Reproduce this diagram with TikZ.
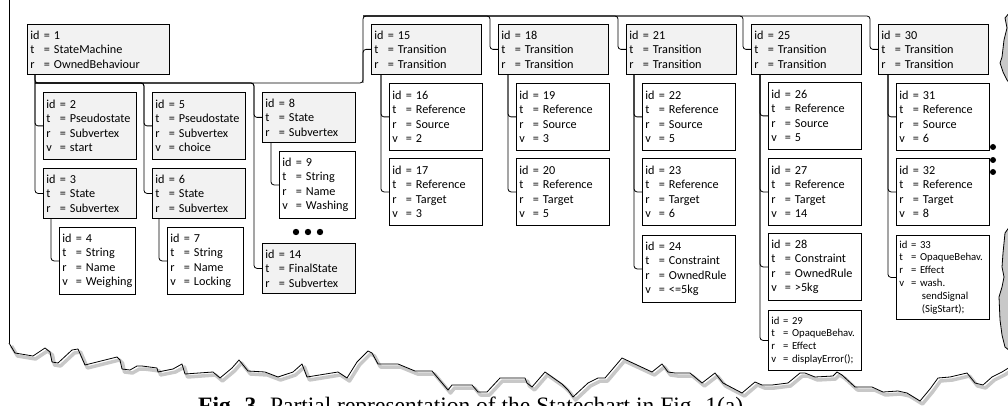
\documentclass[tikz,border=0pt]{standalone}
\usepackage{fontspec}
\setmainfont{Carlito}
\newfontfamily\capfont{Liberation Serif}
\usetikzlibrary{calc,positioning}

\definecolor{elemgrey}{RGB}{242,242,242}
\definecolor{shadowgrey}{RGB}{200,200,200}

\newcommand{\kv}[2]{\makebox[1.1em][l]{#1}= \mbox{#2}}
\newcommand{\boxfont}{\fontsize{12.2}{14.5}\selectfont}
\newcommand{\tinyboxfont}{\fontsize{10.7}{12.8}\selectfont}
\newcommand{\childlink}[2]{\draw[link] ($(#2.west |- #1.south)+(-8,0)$) |- (#2.west);}
\newcommand{\spinelink}[2]{\draw[link] (#1) -| ($(#2.west)+(-8,0)$) -- (#2.west);}
\newcommand{\tornedge}[1]{\draw[#1] (9,343) -- (15,353) -- (33,356) -- (45,348) -- (50,352) -- (52,362) -- (58,363) -- (72,350) -- (78,349) -- (85,365) -- (117,357) -- (120,360) -- (122,369) -- (130,370) -- (137,366) -- (142,366) -- (157,368) -- (158,372) -- (173,369) -- (182,364) -- (185,374) -- (213,372) -- (220,378) -- (232,368) -- (239,360) -- (248,371) -- (265,372) -- (278,377) -- (293,372) -- (302,364) -- (307,377) -- (338,372) -- (347,378) -- (357,362) -- (368,351) -- (372,353) -- (378,364) -- (398,364) -- (415,371) -- (432,371) -- (448,390) -- (452,385) -- (472,385) -- (478,392) -- (487,392) -- (500,378) -- (525,378) -- (527,383) -- (532,387) -- (545,372) -- (562,384) -- (568,390) -- (573,397) -- (588,383) -- (598,378) -- (605,378) -- (622,358) -- (652,372) -- (662,364) -- (668,372) -- (675,373) -- (690,373) -- (702,383) -- (715,373) -- (723,383) -- (742,393) -- (755,382) -- (762,385) -- (772,385) -- (788,383) -- (800,373) -- (805,373) -- (815,377) -- (833,376) -- (837,372) -- (842,375) -- (855,387) -- (872,387) -- (883,392) -- (898,391) -- (907,393) -- (920,401) -- (930,389) -- (938,378) -- (950,377) -- (967,373) -- (975,383) -- (983,385) -- (992,377) -- (1002,372) -- (1010,367);}

\begin{document}
\begin{tikzpicture}[
    x=1pt, y=-1pt,
    box/.style={draw, line width=0.8pt, anchor=north west, align=left, inner xsep=3pt, inner ysep=0pt, font=\boxfont},
    elem/.style={box, fill=elemgrey},
    attr/.style={box, fill=white},
    wroot/.style={text width=136pt},
    wtrans/.style={text width=104pt},
    wstd/.style={text width=87pt},
    wslim/.style={text width=70pt},
    three/.style={minimum height=50pt},
    four/.style={minimum height=67pt},
    link/.style={line width=0.8pt, rounded corners=3pt},
    tornshadow/.style={draw=shadowgrey, line width=3.5pt, line join=round},
    tornline/.style={line width=0.8pt, line join=round}
]
\useasboundingbox (0, 0) rectangle (1008, 406);

% Torn sheet
\tornedge{tornshadow, xshift=2.5pt, yshift=-3pt}
\tornedge{tornline}
\draw[tornline] (9, -2) -- (9, 343);
\draw[tornline, fill=shadowgrey] (1010, 12) -- (1005, 18) -- (1007, 28) -- (1004, 40) -- (1002, 57) -- (1000, 63) -- (1003, 72) -- (1007, 80) -- (1010, 84);
\draw[tornline, fill=shadowgrey] (1010, 226) -- (1005, 233) -- (1003, 253) -- (1002, 267) -- (1004, 277) -- (1002, 287) -- (999, 297) -- (1000, 320) -- (1002, 335) -- (1005, 347) -- (1010, 351);

% Root
\node[elem, wroot, three] (n1) at (27, 24) {\kv{id}{1}\\\kv{t}{StateMachine}\\\kv{r}{OwnedBehaviour}};

% Subvertices
\node[elem, wstd, four] (n2) at (43, 92) {\kv{id}{2}\\\kv{t}{Pseudostate}\\\kv{r}{Subvertex}\\\kv{v}{start}};
\node[elem, wstd, three] (n3) at (43, 168) {\kv{id}{3}\\\kv{t}{State}\\\kv{r}{Subvertex}};
\node[attr, wslim, four] (n4) at (59, 227) {\kv{id}{4}\\\kv{t}{String}\\\kv{r}{Name}\\\kv{v}{Weighing}};
\node[elem, wstd, four] (n5) at (152, 92) {\kv{id}{5}\\\kv{t}{Pseudostate}\\\kv{r}{Subvertex}\\\kv{v}{choice}};
\node[elem, wstd, three] (n6) at (152, 168) {\kv{id}{6}\\\kv{t}{State}\\\kv{r}{Subvertex}};
\node[attr, wslim, four] (n7) at (167, 227) {\kv{id}{7}\\\kv{t}{String}\\\kv{r}{Name}\\\kv{v}{Locking}};
\node[elem, wstd, three] (n8) at (262, 92) {\kv{id}{8}\\\kv{t}{State}\\\kv{r}{Subvertex}};
\node[attr, wslim, four] (n9) at (279, 151) {\kv{id}{9}\\\kv{t}{String}\\\kv{r}{Name}\\\kv{v}{Washing}};
\node[elem, wstd, three] (n14) at (262, 243) {\kv{id}{14}\\\kv{t}{FinalState}\\\kv{r}{Subvertex}};

% Transitions
\node[elem, wtrans, three] (n15) at (371, 24) {\kv{id}{15}\\\kv{t}{Transition}\\\kv{r}{Transition}};
\node[attr, wstd, four] (n16) at (389, 83) {\kv{id}{16}\\\kv{t}{Reference}\\\kv{r}{Source}\\\kv{v}{2}};
\node[attr, wstd, four] (n17) at (389, 158) {\kv{id}{17}\\\kv{t}{Reference}\\\kv{r}{Target}\\\kv{v}{3}};
\node[elem, wtrans, three] (n18) at (498, 24) {\kv{id}{18}\\\kv{t}{Transition}\\\kv{r}{Transition}};
\node[attr, wstd, four] (n19) at (516, 83) {\kv{id}{19}\\\kv{t}{Reference}\\\kv{r}{Source}\\\kv{v}{3}};
\node[attr, wstd, four] (n20) at (516, 158) {\kv{id}{20}\\\kv{t}{Reference}\\\kv{r}{Target}\\\kv{v}{5}};
\node[elem, wtrans, three] (n21) at (626, 24) {\kv{id}{21}\\\kv{t}{Transition}\\\kv{r}{Transition}};
\node[attr, wstd, four] (n22) at (642, 83) {\kv{id}{22}\\\kv{t}{Reference}\\\kv{r}{Source}\\\kv{v}{5}};
\node[attr, wstd, four] (n23) at (642, 158) {\kv{id}{23}\\\kv{t}{Reference}\\\kv{r}{Target}\\\kv{v}{6}};
\node[attr, wstd, four] (n24) at (642, 235) {\kv{id}{24}\\\kv{t}{Constraint}\\\kv{r}{OwnedRule}\\\kv{v}{<=5kg}};
\node[elem, wtrans, three] (n25) at (751, 24) {\kv{id}{25}\\\kv{t}{Transition}\\\kv{r}{Transition}};
\node[attr, wstd, four] (n26) at (768, 82) {\kv{id}{26}\\\kv{t}{Reference}\\\kv{r}{Source}\\\kv{v}{5}};
\node[attr, wstd, four] (n27) at (768, 158) {\kv{id}{27}\\\kv{t}{Reference}\\\kv{r}{Target}\\\kv{v}{14}};
\node[attr, wstd, four] (n28) at (768, 233) {\kv{id}{28}\\\kv{t}{Constraint}\\\kv{r}{OwnedRule}\\\kv{v}{>5kg}};
\node[attr, wstd, minimum height=60pt, font=\tinyboxfont] (n29) at (768, 310) {\kv{id}{29}\\\kv{t}{OpaqueBehav.}\\\kv{r}{Effect}\\\kv{v}{displayError();}};
\node[elem, wtrans, three] (n30) at (878, 24) {\kv{id}{30}\\\kv{t}{Transition}\\\kv{r}{Transition}};
\node[attr, wstd, four] (n31) at (896, 83) {\kv{id}{31}\\\kv{t}{Reference}\\\kv{r}{Source}\\\kv{v}{6}};
\node[attr, wstd, four] (n32) at (896, 158) {\kv{id}{32}\\\kv{t}{Reference}\\\kv{r}{Target}\\\kv{v}{8}};
\node[attr, wstd, minimum height=84pt, font=\tinyboxfont] (n33) at (896, 235) {\kv{id}{33}\\\kv{t}{OpaqueBehav.}\\\kv{r}{Effect}\\\kv{v}{wash.}\\\hspace*{2.1em}sendSignal\\\hspace*{2.1em}(SigStart);};

% Spine
\coordinate (hub) at (35, 83);
\coordinate (rise) at (363, 83);
\coordinate (ridge) at (363, 16);
\draw[link] (n1.south -| hub) -- (hub) -- (rise) -- (ridge) -| ($(n30.west)+(-8,0)$) -- (n30.west);

% Links
\childlink{n1}{n2}
\childlink{n1}{n3}
\childlink{n3}{n4}
\spinelink{hub}{n5}
\spinelink{hub}{n6}
\childlink{n6}{n7}
\spinelink{hub}{n8}
\childlink{n8}{n9}
\spinelink{hub}{n14}
\draw[link] (rise) |- (n15.west);
\childlink{n15}{n16}
\childlink{n15}{n17}
\spinelink{ridge}{n18}
\childlink{n18}{n19}
\childlink{n18}{n20}
\spinelink{ridge}{n21}
\childlink{n21}{n22}
\childlink{n21}{n23}
\childlink{n21}{n24}
\spinelink{ridge}{n25}
\childlink{n25}{n26}
\childlink{n25}{n27}
\childlink{n25}{n28}
\childlink{n25}{n29}
\childlink{n30}{n31}
\childlink{n30}{n32}
\childlink{n30}{n33}

% Omitted parts
\foreach \dx in {296, 308, 320} \fill (\dx, 232) circle[radius=3.2pt];
\foreach \dy in {147, 160, 172} \fill (993, \dy) circle[radius=3pt];

% Caption
\node[anchor=base west, inner sep=0pt] (caption) at (198, 413) {\capfont\fontsize{23.5}{28}\selectfont\textbf{Fig. 3.} Partial representation of the Statechart in Fig. 1(a).};

\end{tikzpicture}
\end{document}
